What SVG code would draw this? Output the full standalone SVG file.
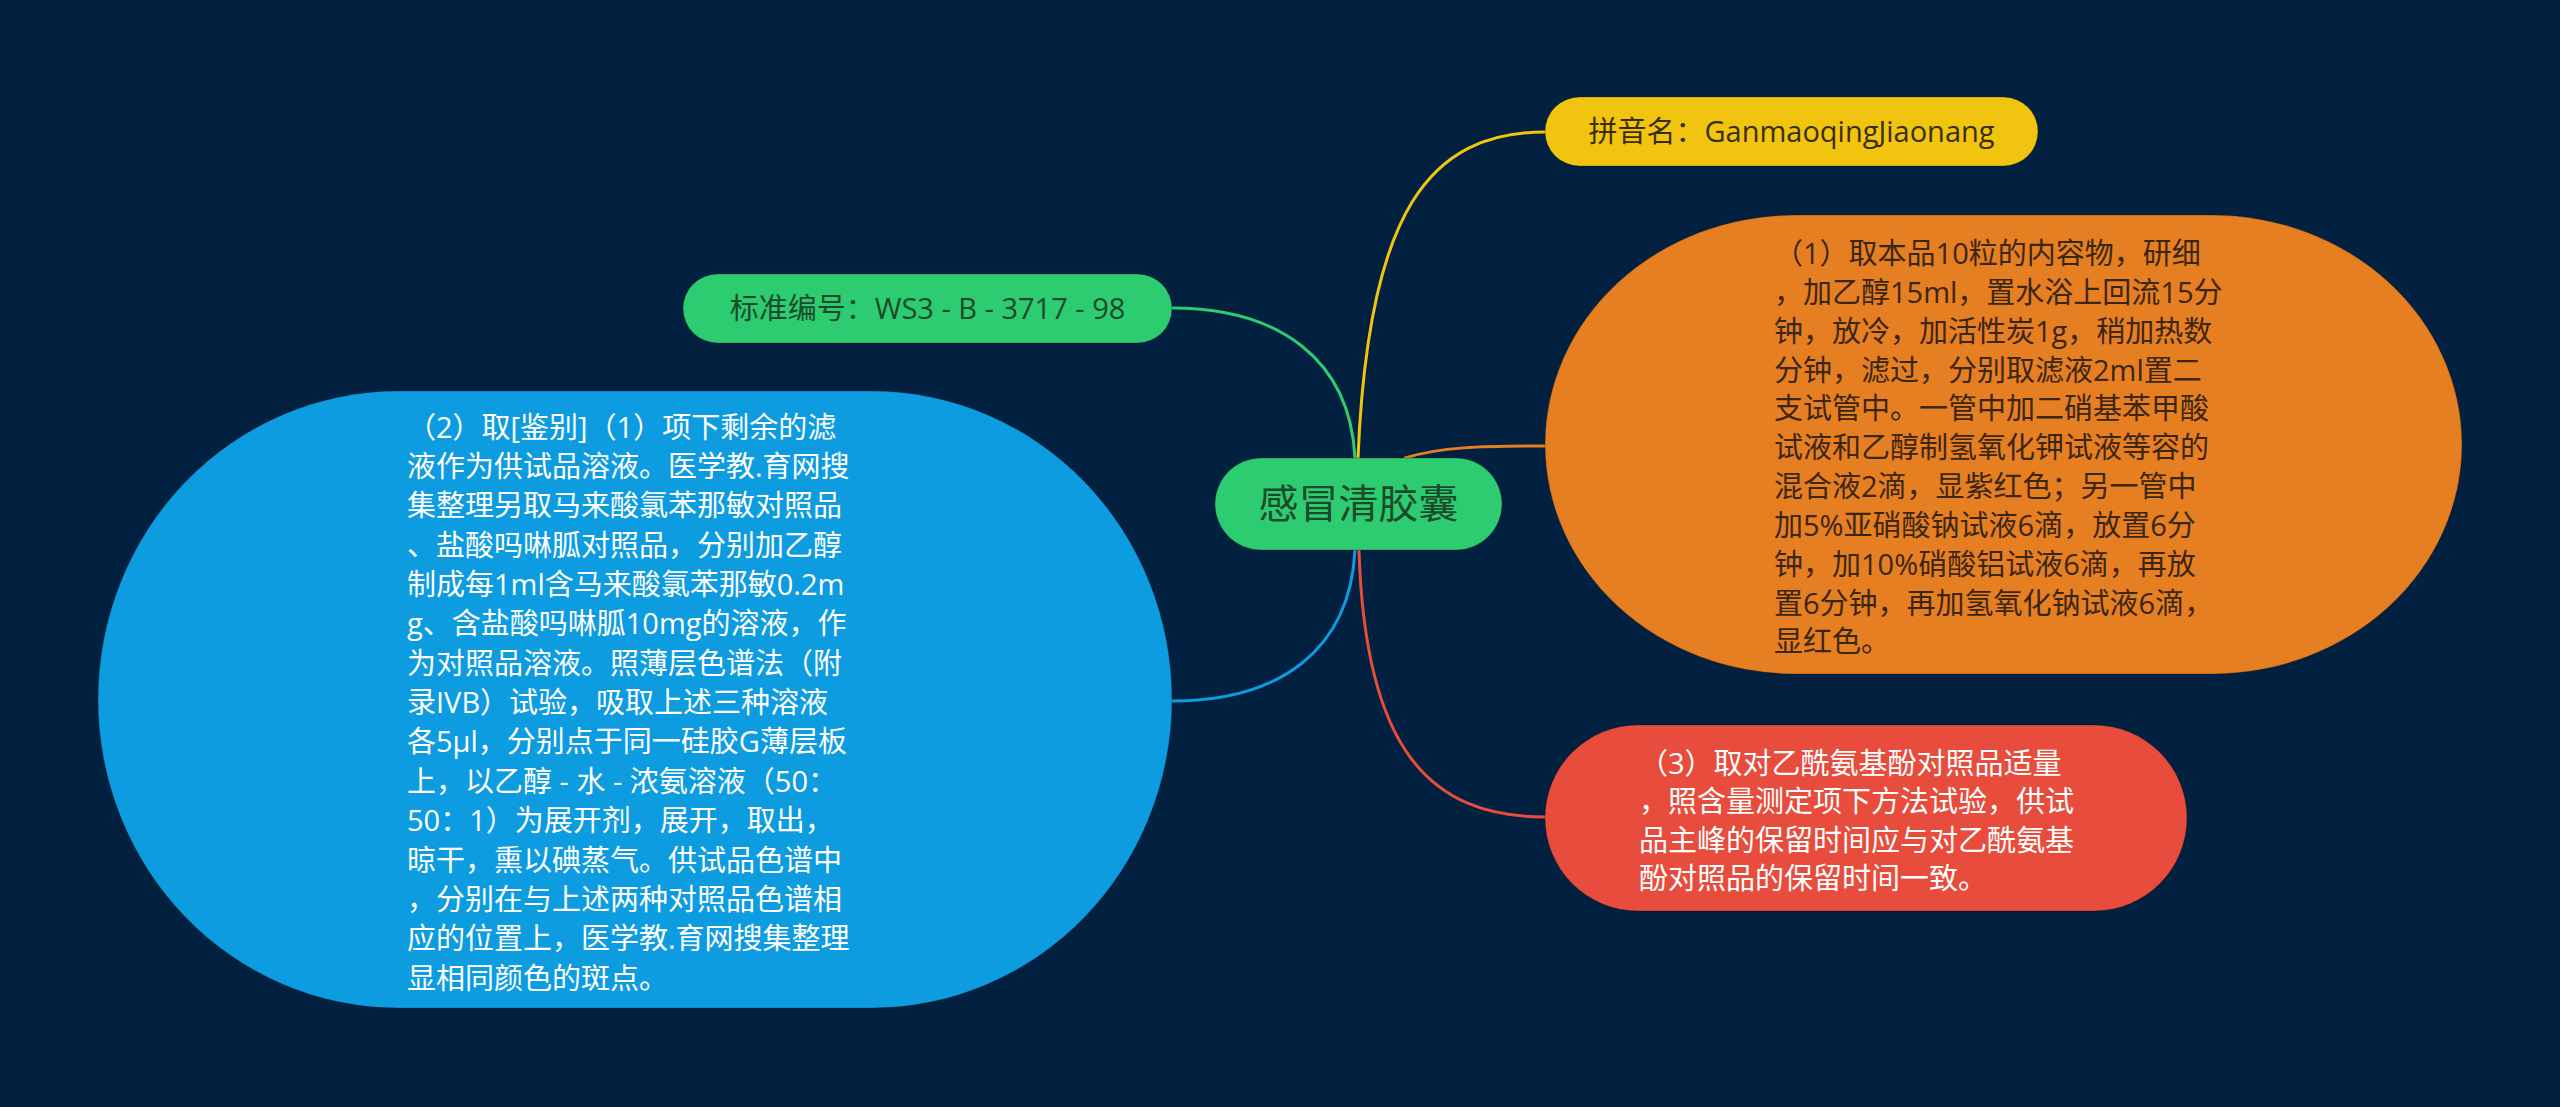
<svg xmlns="http://www.w3.org/2000/svg" width="2560" height="1107" viewBox="0 0 2560 1107">
<style>
.t{font-family:"Open Sans","Noto Sans CJK SC",sans-serif;font-size:29px}
.big{font-size:40px}
.c{fill:none;stroke-width:3;stroke-linecap:round}
.n{stroke:rgba(0,0,0,0.25);stroke-width:1}
</style>
<rect width="2560" height="1107" fill="#022140"/>
<g id="connectors">
<path class="c" stroke="#f1c40f" d="M1358,458 C1368,210 1430,132 1545,132"/>
<path class="c" stroke="#2ecc71" d="M1355,458 C1350,360 1280,308 1172,308"/>
<path class="c" stroke="#e67e22" d="M1405,458 C1440,447 1480,446 1545,446"/>
<path class="c" stroke="#0e9ce0" d="M1355,550 C1350,650 1280,701 1172,701"/>
<path class="c" stroke="#e74c3c" d="M1359,550 C1365,750 1430,817 1545,817"/>
</g>
<g id="node-center">
<rect class="n" x="1215" y="458" width="287" height="92" rx="46" fill="#2ecc71"/>
<text class="t big" x="1358.5" y="518" text-anchor="middle" fill="#1b4a2a">感冒清胶囊</text>
</g>
<g id="node-pinyin">
<rect class="n" x="1545" y="97" width="493" height="69" rx="34.5" fill="#f1c40f"/>
<text class="t" x="1791.5" y="142" text-anchor="middle" fill="#3a2e08">拼音名：GanmaoqingJiaonang</text>
</g>
<g id="node-standard">
<rect class="n" x="683" y="274" width="489" height="69" rx="34.5" fill="#2ecc71"/>
<text class="t" x="927.5" y="319" text-anchor="middle" fill="#1b4a2a">标准编号：WS3 - B - 3717 - 98</text>
</g>
<g id="node-1">
<rect class="n" x="1545" y="215" width="917" height="459" rx="250" ry="229.5" fill="#e67e22"/>
<text class="t" fill="#3b2612">
<tspan x="1774" y="264">（1）取本品10粒的内容物，研细</tspan>
<tspan x="1774" y="302.8">，加乙醇15ml，置水浴上回流15分</tspan>
<tspan x="1774" y="341.7">钟，放冷，加活性炭1g，稍加热数</tspan>
<tspan x="1774" y="380.5">分钟，滤过，分别取滤液2ml置二</tspan>
<tspan x="1774" y="419.4">支试管中。一管中加二硝基苯甲酸</tspan>
<tspan x="1774" y="458.2">试液和乙醇制氢氧化钾试液等容的</tspan>
<tspan x="1774" y="497">混合液2滴，显紫红色；另一管中</tspan>
<tspan x="1774" y="535.9">加5%亚硝酸钠试液6滴，放置6分</tspan>
<tspan x="1774" y="574.7">钟，加10%硝酸铝试液6滴，再放</tspan>
<tspan x="1774" y="613.6">置6分钟，再加氢氧化钠试液6滴，</tspan>
<tspan x="1774" y="652.4">显红色。</tspan>
</text>
</g>
<g id="node-2">
<rect class="n" x="98" y="391" width="1074" height="617" rx="300" ry="308.5" fill="#0e9ce0"/>
<text class="t" fill="#ffffff">
<tspan x="407" y="437.5">（2）取[鉴别]（1）项下剩余的滤</tspan>
<tspan x="407" y="476.9">液作为供试品溶液。医学教.育网搜</tspan>
<tspan x="407" y="516.2">集整理另取马来酸氯苯那敏对照品</tspan>
<tspan x="407" y="555.6">、盐酸吗啉胍对照品，分别加乙醇</tspan>
<tspan x="407" y="595">制成每1ml含马来酸氯苯那敏0.2m</tspan>
<tspan x="407" y="634.3">g、含盐酸吗啉胍10mg的溶液，作</tspan>
<tspan x="407" y="673.7">为对照品溶液。照薄层色谱法（附</tspan>
<tspan x="407" y="713.1">录IVB）试验，吸取上述三种溶液</tspan>
<tspan x="407" y="752.4">各5μl，分别点于同一硅胶G薄层板</tspan>
<tspan x="407" y="791.8">上，以乙醇 - 水 - 浓氨溶液（50：</tspan>
<tspan x="407" y="831.2">50：1）为展开剂，展开，取出，</tspan>
<tspan x="407" y="870.6">晾干，熏以碘蒸气。供试品色谱中</tspan>
<tspan x="407" y="909.9">，分别在与上述两种对照品色谱相</tspan>
<tspan x="407" y="949.3">应的位置上，医学教.育网搜集整理</tspan>
<tspan x="407" y="988.7">显相同颜色的斑点。</tspan>
</text>
</g>
<g id="node-3">
<rect class="n" x="1545" y="725" width="642" height="186" rx="93" fill="#e74c3c"/>
<text class="t" fill="#ffffff">
<tspan x="1639" y="774">（3）取对乙酰氨基酚对照品适量</tspan>
<tspan x="1639" y="812.4">，照含量测定项下方法试验，供试</tspan>
<tspan x="1639" y="850.8">品主峰的保留时间应与对乙酰氨基</tspan>
<tspan x="1639" y="889.2">酚对照品的保留时间一致。</tspan>
</text>
</g>
</svg>
